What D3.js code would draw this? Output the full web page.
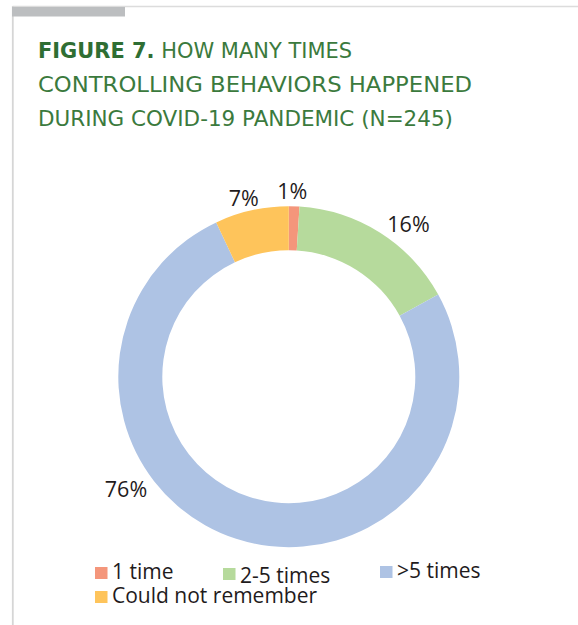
<!DOCTYPE html>
<html>
<head>
<meta charset="utf-8">
<script src="https://cdn.jsdelivr.net/npm/d3@7/dist/d3.min.js"></script>
<style>
  html, body { margin: 0; padding: 0; background: #fff; }
  svg { display: block; }
</style>
</head>
<body>
<svg id="chart" width="578" height="625"></svg>
<script>
// Responses: how often controlling behaviours happened (share of respondents, %)
const categories = ["1 time", "2-5 times", ">5 times", "Could not remember"];
const values = [1, 16, 76, 7];
const colors = ["#f4967b", "#b6da9c", "#aec3e4", "#fec45b"];
const valueLabels = ["1%", "16%", "76%", "7%"];

const titleBold = "FIGURE 7.";
const titleLines = [
  " HOW MANY TIMES",
  "CONTROLLING BEHAVIORS HAPPENED",
  "DURING COVID-19 PANDEMIC (N=245)"
];

const svg = d3.select("#chart");

// Panel frame: thin grey rules with a thicker tab at top left
svg.append("line").attr("x1", 12.5).attr("x2", 578).attr("y1", 6.5).attr("y2", 6.5)
  .attr("stroke", "#dcdcdc").attr("stroke-width", 1.5);
svg.append("line").attr("x1", 12.8).attr("x2", 12.8).attr("y1", 6).attr("y2", 625)
  .attr("stroke", "#d6d6d6").attr("stroke-width", 1.8);
svg.append("rect").attr("x", 12).attr("y", 7).attr("width", 113).attr("height", 9.5)
  .attr("fill", "#bcbec0");

// Title block
const titleFont = "'DejaVu Sans', 'Open Sans', sans-serif";
const titleColor = "#3b7a3d";
const titleY = [58, 92, 126];
const titleWidths = [314, 434, 415];
titleLines.forEach((line, i) => {
  const t = svg.append("text")
    .attr("x", 38).attr("y", titleY[i])
    .attr("font-family", titleFont)
    .attr("font-size", 20.5)
    .attr("fill", titleColor)
    .attr("textLength", titleWidths[i])
    .attr("lengthAdjust", "spacingAndGlyphs");
  if (i === 0) {
    t.append("tspan").attr("font-weight", "bold").attr("fill", "#2f6e33").text(titleBold);
  }
  t.append("tspan").attr("font-weight", "normal").text(line);
});

// Donut
const cx = 288.8, cy = 376.7;
const outerR = 170.5, innerR = 126.5;

const pie = d3.pie().sort(null).value(d => d);
const arcs = pie(values);
const arc = d3.arc().innerRadius(innerR).outerRadius(outerR);

const g = svg.append("g").attr("transform", `translate(${cx},${cy})`);
g.selectAll("path.slice")
  .data(arcs)
  .join("path")
  .attr("class", "slice")
  .attr("d", arc)
  .attr("fill", (d, i) => colors[i]);

// Percentage labels placed around the ring (angle in degrees clockwise from top, radius)
const labelLayout = [
  { angle: 1.1, r: 185 },
  { angle: 38.1, r: 194 },
  { angle: 235.3, r: 198 },
  { angle: 345.8, r: 183.6 }
];
const labelFont = "'Open Sans', 'Liberation Sans', sans-serif";
g.selectAll("text.pct")
  .data(arcs)
  .join("text")
  .attr("class", "pct")
  .attr("x", (d, i) => labelLayout[i].r * Math.sin(labelLayout[i].angle * Math.PI / 180))
  .attr("y", (d, i) => -labelLayout[i].r * Math.cos(labelLayout[i].angle * Math.PI / 180))
  .attr("dy", "0.36em")
  .attr("text-anchor", "middle")
  .attr("font-family", labelFont)
  .attr("font-size", 21.5)
  .attr("fill", "#1f1b1c")
  .text((d, i) => valueLabels[i]);

// Legend
const legendLayout = [
  { x: 95, y: 567, dy: 0 },
  { x: 223, y: 568, dy: 3 },
  { x: 380, y: 566, dy: 0 },
  { x: 95, y: 591, dy: 0 }
];
const legend = svg.append("g");
const items = legend.selectAll("g.item")
  .data(categories)
  .join("g")
  .attr("class", "item")
  .attr("transform", (d, i) => `translate(${legendLayout[i].x},${legendLayout[i].y})`);
items.append("rect")
  .attr("width", 12.5).attr("height", 12)
  .attr("fill", (d, i) => colors[i]);
items.append("text")
  .attr("x", 17)
  .attr("y", (d, i) => 12 + legendLayout[i].dy)
  .attr("font-family", labelFont)
  .attr("font-size", 21)
  .attr("fill", "#1f1b1c")
  .text(d => d);
</script>
</body>
</html>
